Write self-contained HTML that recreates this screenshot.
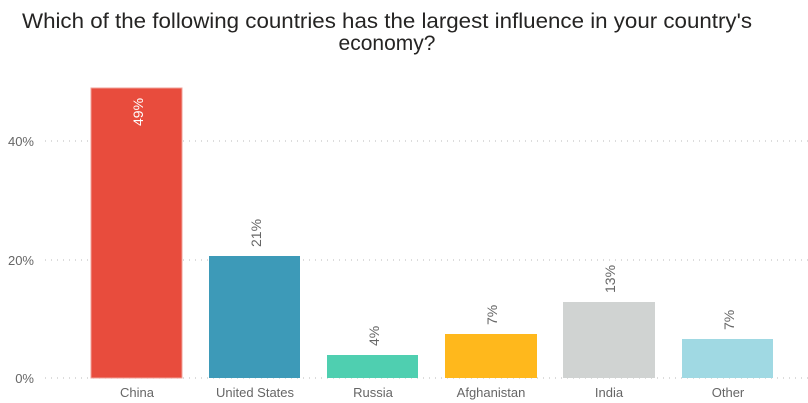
<!DOCTYPE html>
<html><head><style>
body{margin:0;background:#fff;}
svg{display:block;font-family:"Liberation Sans",sans-serif;}
</style></head><body>
<svg width="808" height="403" viewBox="0 0 808 403">
<text x="22" y="28" textLength="730" lengthAdjust="spacingAndGlyphs" font-size="21" fill="#252423">Which of the following countries has the largest influence in your country's</text>
<text x="387" y="50" text-anchor="middle" font-size="21" fill="#252423">economy?</text>
<g stroke="#c8c8c8" stroke-dasharray="1,5" stroke-width="1.3">
<line x1="45" y1="141" x2="808" y2="141"/>
<line x1="45" y1="260" x2="808" y2="260"/>
<line x1="45" y1="378" x2="808" y2="378"/>
</g>
<g font-size="13" fill="#666" text-anchor="end">
<text x="34" y="146">40%</text>
<text x="34" y="265">20%</text>
<text x="34" y="383">0%</text>
</g>
<rect x="91" y="88" width="91" height="290" fill="#E84C3D" stroke="#f0a098" stroke-width="1"/>
<rect x="209" y="256" width="91" height="122" fill="#3D9AB8"/>
<rect x="327" y="355" width="91" height="23" fill="#4FCFB0"/>
<rect x="445" y="334" width="92" height="44" fill="#FFB81C"/>
<rect x="563" y="302" width="92" height="76" fill="#D0D3D2"/>
<rect x="682" y="339" width="91" height="39" fill="#A0D9E3"/>
<g font-size="13" fill="#666" text-anchor="middle">
<text x="137" y="397">China</text>
<text x="255" y="397">United States</text>
<text x="373" y="397">Russia</text>
<text x="491" y="397">Afghanistan</text>
<text x="609" y="397">India</text>
<text x="728" y="397">Other</text>
</g>
<g font-size="14" fill="#666">
<text transform="translate(143,126) rotate(-90)" fill="#fff">49%</text>
<text transform="translate(261,247) rotate(-90)">21%</text>
<text transform="translate(379,346) rotate(-90)">4%</text>
<text transform="translate(497,325) rotate(-90)">7%</text>
<text transform="translate(615,293) rotate(-90)">13%</text>
<text transform="translate(734,330) rotate(-90)">7%</text>
</g>
</svg>
</body></html>
